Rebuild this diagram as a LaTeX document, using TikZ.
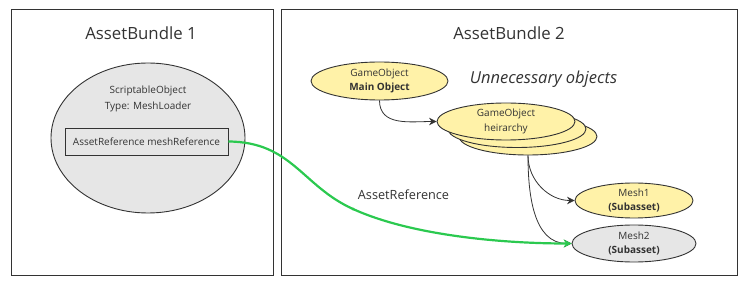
\documentclass[tikz,border=0pt]{standalone}
\usepackage{fontspec}
\setmainfont{Open Sans}
\usetikzlibrary{shapes.geometric,arrows.meta}
\definecolor{ink}{HTML}{333333}
\definecolor{yel}{HTML}{FFF2A8}
\definecolor{gry}{HTML}{E6E6E6}
\definecolor{grn}{HTML}{2BC94F}
\tikzset{
  bundle/.style={draw=ink, line width=0.9pt},
  title/.style={text=ink, font=\fontsize{16.8}{18}\selectfont},
  obj/.style={ellipse, draw=ink, line width=0.9pt, inner sep=0pt, align=center, text=ink, font=\fontsize{10}{14.5}\selectfont},
  small/.style={text=ink, font=\fontsize{10}{15.5}\selectfont},
  conn/.style={draw=ink, line width=0.8pt, -{Stealth[length=7.5pt,width=7.5pt]}},
  ref/.style={draw=grn, line width=2.2pt, -{Stealth[length=8pt,width=8pt]}},
}
\begin{document}
\begin{tikzpicture}[x=1pt,y=-1pt]
\useasboundingbox (0,0) rectangle (744,288);
% bundles
\draw[bundle] (11,9) rectangle (273,275);
\draw[bundle] (281,9) rectangle (737,275);
\node[title] (t1) at (141,33) {AssetBundle 1};
\node[title] (t2) at (509,33) {AssetBundle 2};
% scriptable object
\node[obj, fill=gry, minimum width=194pt, minimum height=150pt] (so) at (148,138) {};
\node[small, align=center] (sot) at (148,99) {ScriptableObject\\Type: MeshLoader};
\node[draw=ink, line width=0.9pt, fill=gry, minimum width=163pt, minimum height=27pt, inner sep=0pt, small] (mr) at (146.5,141.5) {AssetReference meshReference};
% main object
\node[obj, fill=yel, minimum width=137pt, minimum height=38pt] (mo) at (379.5,81) {GameObject\\\textbf{Main Object}};
\node[text=ink, font=\fontsize{16.5}{18}\selectfont\itshape] (un) at (543.5,79) {Unnecessary objects};
% hierarchy stack
\node[obj, fill=yel, minimum width=138pt, minimum height=37pt] (h3) at (528,136.5) {};
\node[obj, fill=yel, minimum width=138pt, minimum height=37pt] (h2) at (517,129) {};
\node[obj, fill=yel, minimum width=138pt, minimum height=37pt] (h1) at (506,121.5) {GameObject\\heirarchy};
% meshes
\node[obj, fill=yel, minimum width=118pt, minimum height=35pt] (m1) at (634,200.5) {Mesh1\\\textbf{(Subasset)}};
\node[obj, fill=gry, minimum width=124pt, minimum height=37pt] (m2) at (634,243.5) {Mesh2\\\textbf{(Subasset)}};
% connectors
\draw[conn] (mo.south) to[out=-90,in=180,looseness=1.1] (h1.west);
\draw[conn] (h3.south) to[out=-90,in=180] (m1.west);
\draw[conn] (h3.south) to[out=-90,in=180] (m2.west);
\coordinate (mid) at (353,209);
\draw[ref] (mr.east) .. controls (292,142) and (302,186) .. (mid) .. controls (410,235) and (500,243.5) .. (m2.west);
\fill[grn] (mid) circle (1.7pt);
\node[text=ink, font=\fontsize{12.7}{14}\selectfont] (lbl) at (403.5,195) {AssetReference};
\end{tikzpicture}
\end{document}
